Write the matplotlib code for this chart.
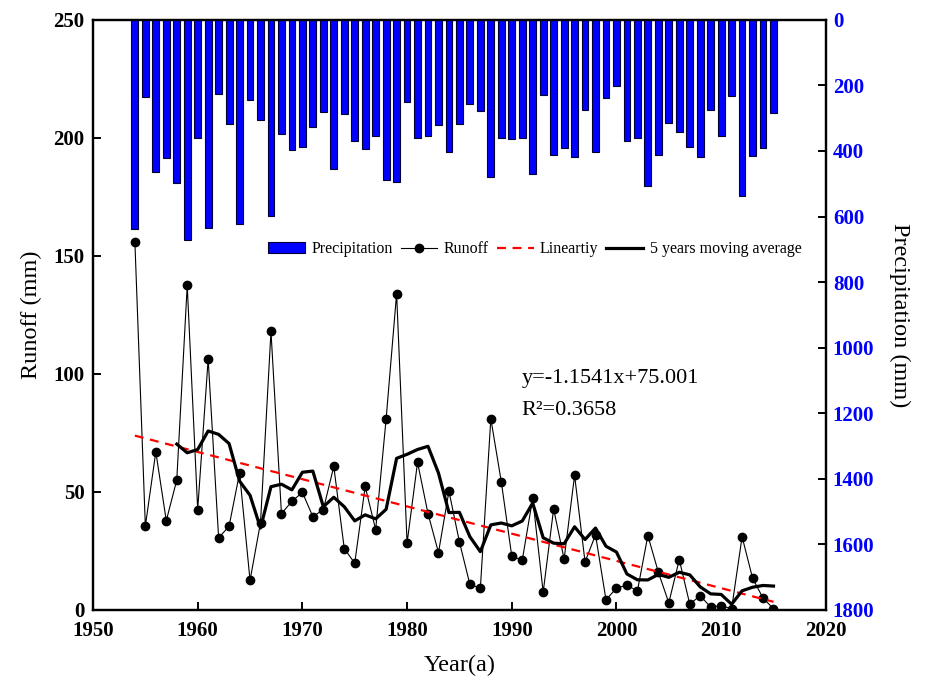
import matplotlib
matplotlib.use("Agg")
import matplotlib.pyplot as plt
import numpy as np
import pandas as pd

plt.rcParams['font.family'] = ['Liberation Serif', 'DejaVu Serif']

years = list(range(1954, 2016))

# runoff (mm)
runoff = [156, 35.5, 67, 37.8, 55, 137.5, 42.5, 106.3, 30.5, 35.5,
          58, 12.5, 37, 118, 40.8, 46, 49.8, 39.5, 42.5, 60.8,
          26, 19.8, 52.3, 34, 81, 134, 28.3, 62.5, 40.8, 24.3,
          50.3, 28.8, 10.8, 9.2, 81, 54.3, 22.8, 21, 47.3, 7.5,
          42.8, 21.5, 57, 20.3, 31.8, 4.3, 9.2, 10.5, 8, 31.5,
          16, 3, 21.3, 2.5, 6, 1.2, 1.8, 0.5, 31, 13.5,
          5, 0.5]

# precipitation (mm), bars hang from the top (inverted right axis)
precip = [637, 235, 464, 423, 498, 671, 362, 635, 227, 319,
          622, 246, 307, 597, 349, 398, 389, 328, 282, 456,
          288, 370, 393, 353, 488, 496, 251, 359, 354, 322,
          404, 319, 258, 279, 478, 359, 365, 360, 471, 229,
          412, 390, 419, 274, 404, 240, 203, 371, 362, 508,
          412, 316, 342, 387, 417, 275, 353, 233, 538, 415,
          390, 285]

# trend line from the equation printed on the chart
slope = -1.1541
intercept = 75.001

df = pd.DataFrame({'year': years, 'runoff': runoff, 'precip': precip})
df['ma5'] = df['runoff'].rolling(5).mean()
df['trend'] = slope * (df.index + 1) + intercept

fig = plt.figure(figsize=(9.3, 6.83), dpi=100)
ax = fig.add_axes([0.1, 0.107, 0.788, 0.864])
ax2 = ax.twinx()

bars = ax2.bar(df['year'], df['precip'], width=0.65, color='#0000FF',
               edgecolor='#000033', linewidth=0.8, label='Precipitation')
ax2.set_ylim(1800, 0)
ax2.set_yticks(range(0, 1801, 200))

l1, = ax.plot(df['year'], df['runoff'], color='black', lw=0.8, marker='o',
              markersize=6, label='Runoff')
l2, = ax.plot(df['year'], df['trend'], color='red', lw=1.6, ls=(0, (4, 3)),
              label='Lineartiy')
l3, = ax.plot(df['year'], df['ma5'], color='black', lw=2.3,
              label='5 years moving average')

ax.set_xlim(1950, 2020)
ax.set_ylim(0, 250)
ax.set_xticks(range(1950, 2021, 10))
ax.set_yticks(range(0, 251, 50))

for a in (ax, ax2):
    for s in a.spines.values():
        s.set_linewidth(1.6)
ax.tick_params(axis='y', direction='in', length=6, width=1.4,
               labelsize=15, pad=6)
ax.tick_params(axis='x', direction='in', length=6, width=1.4,
               labelsize=15, pad=8)
ax2.tick_params(axis='y', direction='in', length=6, width=1.4,
                labelsize=15, pad=5, labelcolor='#0000FF')
for lab in ax.get_xticklabels() + ax.get_yticklabels() + ax2.get_yticklabels():
    lab.set_fontweight('bold')

ax.set_xlabel('Year(a)', fontsize=17.5, labelpad=10)
ax.set_ylabel('Runoff (mm)', fontsize=17.5, labelpad=8)
ax2.set_ylabel('Precipitation (mm)', fontsize=17.5, rotation=270, labelpad=26)

ax.text(0.585, 0.385, 'y=-1.1541x+75.001', transform=ax.transAxes, fontsize=16)
ax.text(0.585, 0.33, 'R²=0.3658', transform=ax.transAxes, fontsize=16)

ax2.legend([bars, l1, l2, l3],
           ['Precipitation', 'Runoff', 'Lineartiy', '5 years moving average'],
           loc='center', bbox_to_anchor=(0.575, 0.635),
           bbox_transform=fig.transFigure, ncol=4, frameon=False,
           fontsize=11.5, handlelength=2.3, handletextpad=0.4,
           columnspacing=0.5)

fig.savefig('out.png', dpi=100)
